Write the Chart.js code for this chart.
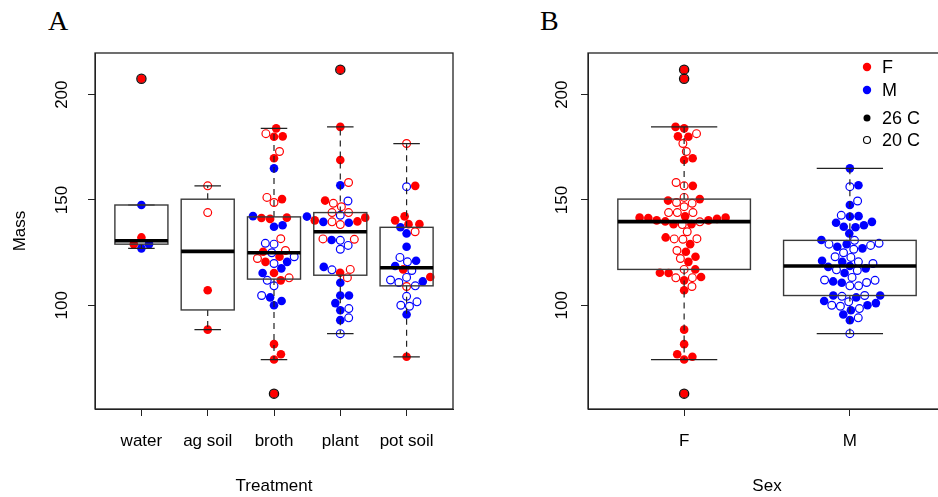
<!DOCTYPE html>
<html lang="en">
<head>
<meta charset="UTF-8">
<title>Mass by treatment and sex</title>
<script src="https://cdn.jsdelivr.net/npm/chart.js@4"></script>
<style>
  body {
    margin: 0;
    width: 938px;
    height: 497px;
    overflow: hidden;
    position: relative;
    background: #fff;
  }
  .panel {
    position: absolute;
    top: 0;
    width: 469px;
    height: 497px;
  }
  #panelA { left: 0; }
  #panelB { left: 493px; }
  .tag {
    position: absolute;
    top: 5px;
    font-family: "Liberation Serif", "Times New Roman", serif;
    font-size: 28px;
    color: #000;
  }
</style>
</head>
<body>
<div class="tag" style="left:48px">A</div>
<div class="tag" style="left:540px">B</div>
<div class="panel" id="panelA"><canvas id="chartA" width="469" height="497"></canvas></div>
<div class="panel" id="panelB"><canvas id="chartB" width="469" height="497"></canvas></div>

<script>
// ---- data ----
// kind: sex (F/M) + temperature (26 = filled, 20 = open)
const treatments = ['water', 'ag soil', 'broth', 'plant', 'pot soil'];
const sexes = ['F', 'M'];
const yTicks = [100, 150, 200];

const waterMass = [207.6, 147.6, 132.2, 129.0, 129.0, 127.0];
const waterKind = ['F26', 'M26', 'F26', 'M26', 'F26', 'M26'];

const agSoilMass = [156.7, 144.0, 107.1, 88.4];
const agSoilKind = ['F20', 'F20', 'F26', 'F26'];

const brothMass = [184.0, 181.5, 180.2, 180.0, 173.0, 169.8, 165.0, 151.2, 150.4, 148.8,
                   142.3, 141.6, 141.4, 141.0, 138.0, 137.3, 131.6, 129.4, 129.0, 126.0,
                   125.4, 124.9, 123.0, 123.0, 122.2, 120.6, 120.6, 119.8, 117.5, 115.3,
                   115.3, 113.0, 111.8, 111.8, 109.2, 104.6, 103.7, 102.0, 100.0, 81.5,
                   76.7, 74.2, 58.0];
const brothKind = ['F26', 'F20', 'F26', 'F26', 'F20', 'F26', 'M26', 'F20', 'F26', 'F20',
                   'M26', 'F26', 'F26', 'F26', 'M26', 'M26', 'F20', 'M20', 'M20', 'F20',
                   'F26', 'M20', 'F26', 'M20', 'F20', 'F26', 'M26', 'M20', 'M26', 'F26',
                   'M26', 'F20', 'F26', 'M20', 'M20', 'M20', 'M26', 'M26', 'M26', 'F26',
                   'F26', 'F26', 'F26'];

const plantMass = [211.9, 184.7, 169.0, 158.3, 157.0, 149.7, 149.5, 148.4, 146.8, 144.0,
                   144.0, 142.7, 142.1, 141.6, 140.3, 139.8, 139.6, 139.6, 139.2, 138.3,
                   131.5, 131.3, 131.0, 130.8, 128.4, 126.6, 118.2, 117.0, 116.8, 115.4,
                   113.1, 110.7, 104.6, 104.6, 101.0, 98.4, 97.6, 94.0, 92.9, 86.5];
const plantKind = ['F26', 'F26', 'F26', 'F20', 'M26', 'F26', 'M20', 'F20', 'F20', 'F20',
                   'F20', 'M20', 'M26', 'F26', 'F26', 'F26', 'F20', 'M26', 'M26', 'F20',
                   'F20', 'F20', 'M26', 'M20', 'M20', 'M20', 'M26', 'F20', 'M20', 'F26',
                   'F20', 'M26', 'M26', 'M26', 'M26', 'M20', 'M26', 'M20', 'M26', 'M20'];

const potSoilMass = [176.8, 156.7, 156.3, 142.2, 140.3, 138.5, 138.5, 137.0, 134.9, 134.1,
                     127.8, 122.7, 121.1, 120.6, 118.6, 117.0, 116.5, 113.4, 113.2, 112.0,
                     111.3, 110.8, 109.2, 108.9, 104.2, 101.6, 100.0, 99.5, 95.6, 75.5];
const potSoilKind = ['F20', 'F26', 'M20', 'F26', 'F26', 'F26', 'F26', 'M26', 'F20', 'M26',
                     'M26', 'M20', 'M26', 'M20', 'M26', 'F26', 'M20', 'F26', 'M20', 'M20',
                     'M26', 'M20', 'M20', 'F20', 'M20', 'M20', 'M20', 'M20', 'M26', 'F26'];

const legendLabels = ['F', 'M', '26 C', '20 C'];

// ---- styling ----
const RED = '#ff0000';
const BLUE = '#0000ff';
const INK = '#222';
const SANS = '"Liberation Sans", Arial, Helvetica, sans-serif';
const POINT_GAP = 8.7;   // beeswarm spacing, px

const kindStyle = {
  F26: { color: RED, filled: true },
  F20: { color: RED, filled: false },
  M26: { color: BLUE, filled: true },
  M20: { color: BLUE, filled: false }
};

// R style fivenum / boxplot.stats
function fivenum(values) {
  const x = values.slice().sort((a, b) => a - b);
  const n = x.length;
  const n4 = Math.floor((n + 3) / 2) / 2;
  const d = [1, n4, (n + 1) / 2, n + 1 - n4, n];
  return d.map(p => 0.5 * (x[Math.floor(p) - 1] + x[Math.ceil(p) - 1]));
}

function boxStats(values) {
  const f = fivenum(values);
  const iqr = f[3] - f[1];
  const loFence = f[1] - 1.5 * iqr, hiFence = f[3] + 1.5 * iqr;
  const inside = values.filter(v => v >= loFence && v <= hiFence);
  return {
    lo: Math.min(...inside), q1: f[1], med: f[2], q3: f[3], hi: Math.max(...inside),
    out: values.filter(v => v < loFence || v > hiFence)
  };
}

// beeswarm "swarm" placement (ascending priority), works in pixels
function swarmOffsets(mass, py, size) {
  const order = mass.map((m, i) => i).sort((a, b) => mass[a] - mass[b] || a - b);
  const placed = [];
  const off = new Array(mass.length).fill(0);
  order.forEach(i => {
    const yi = -py[i] / size;
    let near = placed.filter(p => Math.abs(yi - p.y) < 1);
    let best = 0;
    if (near.length) {
      near = near.slice().sort((a, b) => Math.abs(a.o) - Math.abs(b.o));
      const cand = [0];
      near.forEach(p => cand.push(p.o + Math.sqrt(1 - (yi - p.y) ** 2)));
      near.forEach(p => cand.push(p.o - Math.sqrt(1 - (yi - p.y) ** 2)));
      let bestAbs = Infinity;
      cand.forEach(c => {
        const bad = near.some(p => (c - p.o) ** 2 + (yi - p.y) ** 2 < 0.999);
        if (!bad && Math.abs(c) < bestAbs) { bestAbs = Math.abs(c); best = c; }
      });
    }
    placed.push({ y: yi, o: best });
    off[i] = best * size;
  });
  return off;
}

// groups for each panel
const treatmentGroups = [
  { pos: 1, mass: waterMass, kind: waterKind },
  { pos: 2, mass: agSoilMass, kind: agSoilKind },
  { pos: 3, mass: brothMass, kind: brothKind },
  { pos: 4, mass: plantMass, kind: plantKind },
  { pos: 5, mass: potSoilMass, kind: potSoilKind }
];

const allMass = [].concat(waterMass, agSoilMass, brothMass, plantMass, potSoilMass);
const allKind = [].concat(waterKind, agSoilKind, brothKind, plantKind, potSoilKind);
const sexGroups = sexes.map((s, i) => {
  const idx = allKind.map((k, j) => j).filter(j => allKind[j][0] === s);
  return { pos: i + 1, mass: idx.map(j => allMass[j]), kind: idx.map(j => allKind[j]) };
});

function makeDatasets() {
  return Object.keys(kindStyle).map(k => {
    const st = kindStyle[k];
    return {
      label: k,
      data: [],
      pointStyle: 'circle',
      pointRadius: st.filled ? 4.3 : 3.9,
      pointBorderWidth: st.filled ? 0 : 1.2,
      pointBackgroundColor: st.filled ? st.color : 'rgba(0,0,0,0)',
      pointBorderColor: st.color
    };
  });
}

function placeSwarm(chart, groups) {
  const xs = chart.scales.x, ys = chart.scales.y;
  const pxPerUnit = xs.getPixelForValue(1) - xs.getPixelForValue(0);
  const pts = { F26: [], F20: [], M26: [], M20: [] };
  groups.forEach(g => {
    const py = g.mass.map(m => ys.getPixelForValue(m));
    const off = swarmOffsets(g.mass, py, POINT_GAP);
    g.mass.forEach((m, i) => pts[g.kind[i]].push({ x: g.pos + off[i] / pxPerUnit, y: m }));
  });
  chart.data.datasets.forEach(ds => { ds.data = pts[ds.label]; });
  chart.update('none');
}

// boxes, whiskers and frame drawn on top of the points
function boxPlugin(groups, boxWidth) {
  return {
    id: 'boxes',
    afterDatasetsDraw(chart) {
      const { ctx, chartArea: a } = chart;
      const xs = chart.scales.x, ys = chart.scales.y;
      ctx.save();
      groups.forEach(g => {
        const s = boxStats(g.mass);
        const cx = xs.getPixelForValue(g.pos);
        const half = (xs.getPixelForValue(g.pos + boxWidth / 2) - cx);
        const Y = v => ys.getPixelForValue(v);
        // whiskers
        ctx.strokeStyle = INK;
        ctx.lineWidth = 1.2;
        ctx.setLineDash([6, 5]);
        ctx.beginPath();
        ctx.moveTo(cx, Y(s.q3)); ctx.lineTo(cx, Y(s.hi));
        ctx.moveTo(cx, Y(s.q1)); ctx.lineTo(cx, Y(s.lo));
        ctx.stroke();
        ctx.setLineDash([]);
        ctx.beginPath();
        ctx.moveTo(cx - half / 2, Y(s.hi)); ctx.lineTo(cx + half / 2, Y(s.hi));
        ctx.moveTo(cx - half / 2, Y(s.lo)); ctx.lineTo(cx + half / 2, Y(s.lo));
        ctx.stroke();
        // box
        ctx.strokeStyle = '#3a3a3a';
        ctx.lineWidth = 1.4;
        ctx.strokeRect(cx - half, Y(s.q3), 2 * half, Y(s.q1) - Y(s.q3));
        // median
        ctx.strokeStyle = '#000';
        ctx.lineWidth = 3.6;
        ctx.beginPath();
        ctx.moveTo(cx - half, Y(s.med)); ctx.lineTo(cx + half, Y(s.med));
        ctx.stroke();
        // outliers
        ctx.strokeStyle = '#111';
        ctx.lineWidth = 1.3;
        s.out.forEach(v => {
          ctx.beginPath();
          ctx.arc(cx, Y(v), 4.6, 0, Math.PI * 2);
          ctx.stroke();
        });
      });
      // plot frame
      ctx.strokeStyle = INK;
      ctx.lineWidth = 1.3;
      ctx.strokeRect(a.left, a.top, a.right - a.left, a.bottom - a.top);
      ctx.restore();
    }
  };
}

const legendPlugin = {
  id: 'swarmLegend',
  afterDraw(chart) {
    const ctx = chart.ctx;
    const dotX = 374, textX = 389;
    const rows = [67, 90, 118, 140];
    const marks = [
      { color: RED, filled: true, r: 4.2 },
      { color: BLUE, filled: true, r: 4.2 },
      { color: '#000', filled: true, r: 3.5 },
      { color: '#000', filled: false, r: 3.5 }
    ];
    ctx.save();
    ctx.font = '18px ' + SANS;
    ctx.textBaseline = 'middle';
    ctx.fillStyle = '#000';
    legendLabels.forEach((t, i) => {
      const m = marks[i];
      ctx.beginPath();
      ctx.arc(dotX, rows[i], m.r, 0, Math.PI * 2);
      if (m.filled) { ctx.fillStyle = m.color; ctx.fill(); }
      else { ctx.strokeStyle = m.color; ctx.lineWidth = 1.1; ctx.stroke(); }
      ctx.fillStyle = '#000';
      ctx.fillText(t, textX, rows[i] + 1);
    });
    ctx.restore();
  }
};

function makeChart(canvasId, opts) {
  const tickFont = { family: SANS, size: 17 };
  const titleFont = { family: SANS, size: 17 };
  return new Chart(document.getElementById(canvasId), {
    type: 'scatter',
    data: { datasets: makeDatasets() },
    options: {
      animation: false,
      responsive: false,
      events: [],
      layout: { padding: { top: 53, right: 16, left: 0, bottom: 0 } },
      plugins: { legend: { display: false }, tooltip: { enabled: false } },
      scales: {
        x: {
          type: 'linear',
          min: opts.xMin,
          max: opts.xMax,
          afterBuildTicks: s => { s.ticks = opts.labels.map((l, i) => ({ value: i + 1 })); },
          afterFit: s => { s.height = 88; },
          ticks: {
            autoSkip: false,
            maxRotation: 0,
            padding: 15,
            color: '#000',
            font: tickFont,
            callback: v => opts.labels[v - 1]
          },
          grid: { drawOnChartArea: false, drawTicks: true, tickLength: 7, color: INK },
          border: { display: true, color: INK },
          title: {
            display: true,
            text: opts.xTitle,
            color: '#000',
            font: titleFont,
            padding: { top: 0, bottom: 0 }
          }
        },
        y: {
          type: 'linear',
          min: 50.7,
          max: 219.8,
          afterBuildTicks: s => { s.ticks = yTicks.map(v => ({ value: v })); },
          afterFit: s => { s.width = 95; },
          ticks: {
            minRotation: 90,
            maxRotation: 90,
            crossAlign: 'center',
            padding: opts.yTickPad,
            color: '#000',
            font: tickFont
          },
          grid: { drawOnChartArea: false, drawTicks: true, tickLength: 7, color: INK },
          border: { display: true, color: INK },
          title: {
            display: !!opts.yTitle,
            text: opts.yTitle || '',
            color: '#000',
            font: titleFont,
            padding: { top: 10, bottom: 0 }
          }
        }
      }
    },
    plugins: opts.plugins
  });
}

const chartA = makeChart('chartA', {
  xMin: 0.3, xMax: 5.7, labels: treatments, xTitle: 'Treatment', yTitle: 'Mass', yTickPad: 12,
  plugins: [boxPlugin(treatmentGroups, 0.8)]
});
placeSwarm(chartA, treatmentGroups);

const chartB = makeChart('chartB', {
  xMin: 0.42, xMax: 2.58, labels: sexes, xTitle: 'Sex', yTitle: '', yTickPad: 5,
  plugins: [boxPlugin(sexGroups, 0.8), legendPlugin]
});
placeSwarm(chartB, sexGroups);
</script>
</body>
</html>
